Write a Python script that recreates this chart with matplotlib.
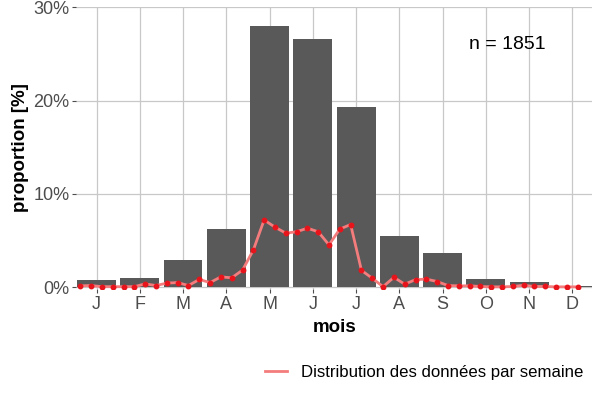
import numpy as np
import matplotlib
matplotlib.use("Agg")
from matplotlib import pyplot as plt
from matplotlib.lines import Line2D

plt.rcParams['font.family'] = ['Liberation Sans', 'DejaVu Sans']

# monthly share of observations (%)
months = ["J", "F", "M", "A", "M", "J", "J", "A", "S", "O", "N", "D"]
monthly_pct = [0.78, 0.95, 2.95, 6.2, 28.0, 26.6, 19.35, 5.43, 3.71, 0.82, 0.57, 0.14]

# weekly share (%), 4 values per month, last one of December missing
weekly_pct = [
    0.14, 0.17, 0.05, 0.05,
    0.05, 0.05, 0.35, 0.17,
    0.43, 0.49, 0.17, 0.82,
    0.49, 1.10, 1.00, 1.82,
    3.97, 7.20, 6.43, 5.79,
    5.93, 6.32, 5.93, 4.53,
    6.22, 6.71, 1.80, 0.95,
    0.05, 1.05, 0.32, 0.80,
    0.86, 0.60, 0.17, 0.14,
    0.14, 0.07, 0.03, 0.03,
    0.07, 0.20, 0.07, 0.07,
    0.03, 0.03, 0.03,
]
n_total = 1851

fig = plt.figure(figsize=(6, 4), dpi=100)
ax = fig.add_axes([0.127, 0.2775, 0.86, 0.705])

xm = np.arange(1, len(months) + 1)
ax.bar(xm, monthly_pct, width=0.9, color='#595959', zorder=2)

idx = np.arange(len(weekly_pct))
xw = 1 + idx // 4 + ((idx % 4) - 1.5) / 4
ax.plot(xw, weekly_pct, color='#f47c7c', lw=2, zorder=3)
ax.plot(xw, weekly_pct, 'o', color='#e8141c', ms=3.2, zorder=4)

ax.text(10.5, 26, "n = %d" % n_total, ha='center', va='center', fontsize=14, color='black')

ax.set_xlim(0.53, 12.46)
ax.set_ylim(-0.2, 30.02)
ax.set_xticks(xm)
ax.set_xticklabels(months)
ax.set_yticks([0, 10, 20, 30])
ax.set_yticklabels(["0%", "10%", "20%", "30%"])
ax.tick_params(axis='both', colors='#4d4d4d', labelsize=13, length=3, width=0.8, pad=2)
ax.grid(True, color='#c8c8c8', lw=0.9, zorder=0)
ax.set_axisbelow(True)
for s in ax.spines.values():
    s.set_visible(False)

ax.set_xlabel("mois", fontsize=13.5, fontweight='bold', labelpad=4)
ax.set_ylabel("proportion [%]", fontsize=13.5, fontweight='bold', labelpad=3)

handle = Line2D([], [], color='#f47c7c', lw=2)
fig.legend([handle], ["Distribution des données par semaine"], loc='center right',
           bbox_to_anchor=(0.997, 0.07), frameon=False, fontsize=12.1,
           handlelength=1.3, handletextpad=0.8)

fig.savefig("out.png", dpi=100)
